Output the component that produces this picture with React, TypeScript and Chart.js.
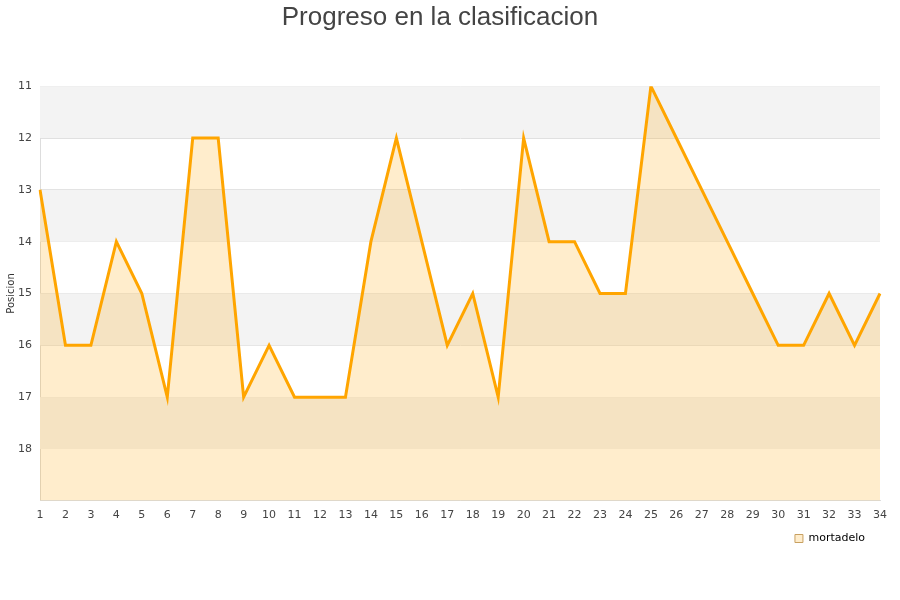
import React, { useEffect, useRef } from "react";
import { Chart, registerables } from "chart.js";

Chart.register(...registerables);

const jornadas: string[] = Array.from({ length: 34 }, (_, i) => String(i + 1));
const posiciones: number[] = [13, 16, 16, 14, 15, 17, 12, 12, 17, 16, 17, 17, 17, 14, 12, 14, 16, 15, 17, 12, 14, 14, 15, 15, 11, 12, 13, 14, 15, 16, 16, 15, 16, 15];
const yTicks: number[] = [11, 12, 13, 14, 15, 16, 17, 18];
const seriesName = "mortadelo";
const titleText = "Progreso en la clasificacion";
const yTitle = "Posicion";

const bandsPlugin = {
  id: "bands",
  beforeDatasetsDraw(chart: any) {
    const { ctx, chartArea, scales } = chart;
    const y = scales.y;
    ctx.save();
    ctx.fillStyle = "#f3f3f3";
    for (let v = 11; v < 19; v += 2) {
      const a = y.getPixelForValue(v);
      const b = y.getPixelForValue(v + 1);
      ctx.fillRect(chartArea.left, Math.min(a, b), chartArea.right - chartArea.left, Math.abs(b - a));
    }
    ctx.restore();
  },
};

export default function App() {
  const ref = useRef<HTMLCanvasElement>(null);
  useEffect(() => {
    if (!ref.current) return;
    const chart = new Chart(ref.current, {
      type: "line",
      data: {
        labels: jornadas,
        datasets: [
          {
            label: seriesName,
            data: posiciones,
            borderColor: "#ffa500",
            backgroundColor: "rgba(255,165,0,0.2)",
            borderWidth: 3,
            pointRadius: 0,
            tension: 0,
            fill: { value: 19 },
          },
        ],
      },
      options: {
        animation: false,
        responsive: false,
        layout: { padding: { left: 0, right: 20, top: 0, bottom: 46 } },
        plugins: {
          title: {
            display: true,
            text: titleText,
            color: "#444",
            font: { family: "'Liberation Sans', Arial, sans-serif", size: 26, weight: "normal" },
            padding: { top: 2, bottom: 53 },
          },
          legend: {
            position: "bottom",
            align: "end",
            labels: {
              boxWidth: 8,
              boxHeight: 8,
              color: "#222",
              font: { family: "'DejaVu Sans', sans-serif", size: 11 },
              padding: 15,
              generateLabels: () => [
                {
                  text: seriesName,
                  fillStyle: "rgba(255,165,0,0.2)",
                  strokeStyle: "#c8a060",
                  lineWidth: 1,
                  datasetIndex: 0,
                },
              ],
            },
          },
          tooltip: { enabled: false },
        },
        scales: {
          x: {
            type: "category",
            offset: false,
            grid: { display: false, drawTicks: false },
            border: { display: true, color: "#dddddd" },
            afterFit: (s: any) => {
              s.height = s.height - 12;
            },
            ticks: {
              color: "#444",
              font: { family: "'DejaVu Sans', sans-serif", size: 11 },
              autoSkip: false,
              maxRotation: 0,
              padding: 8,
            },
          },
          y: {
            type: "linear",
            reverse: true,
            min: 11,
            max: 19,
            afterBuildTicks: (s: any) => {
              s.ticks = [...yTicks, 19].map((v) => ({ value: v }));
            },
            afterFit: (s: any) => {
              s.width = 40;
            },
            grid: { color: "#e0e0e0", drawTicks: false },
            border: { display: true, color: "#dddddd" },
            title: {
              display: true,
              text: yTitle,
              color: "#333",
              font: { family: "'DejaVu Sans', sans-serif", size: 10 },
              padding: { top: 5, bottom: 0 },
            },
            ticks: {
              color: "#444",
              font: { family: "'DejaVu Sans', sans-serif", size: 11 },
              padding: 8,
              callback: (v: any) => (yTicks.includes(Number(v)) ? String(v) : ""),
            },
          },
        },
      },
      plugins: [bandsPlugin],
    });
    return () => chart.destroy();
  }, []);
  return (
    <div style={{ position: "absolute", left: 0, top: 0, width: 900, height: 600, background: "#fff" }}>
      <canvas ref={ref} width={900} height={600} style={{ width: 900, height: 600 }} />
    </div>
  );
}
